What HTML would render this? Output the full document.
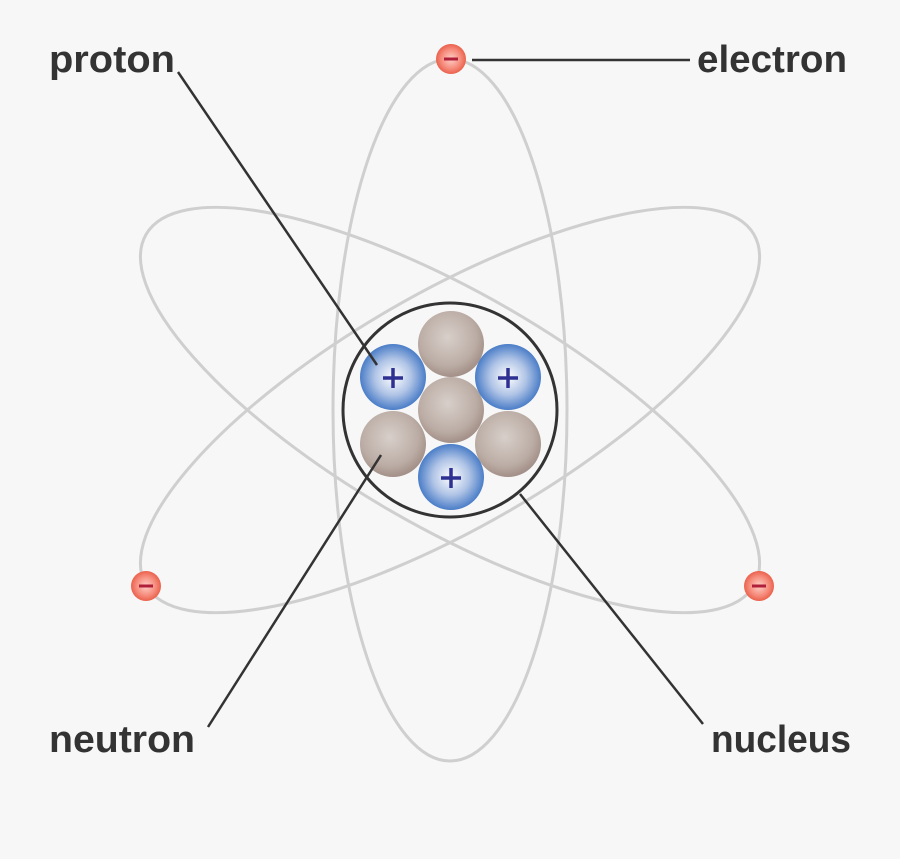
<!DOCTYPE html>
<html><head><style>html,body{margin:0;padding:0;background:#f7f7f7}</style></head><body>
<svg width="900" height="854" viewBox="0 0 900 854" xmlns="http://www.w3.org/2000/svg">
<defs>
<radialGradient id="n" cx="45%" cy="40%" r="60%"><stop offset="0" stop-color="#d8cfca"/><stop offset="0.7" stop-color="#bcaea6"/><stop offset="1" stop-color="#a39088"/></radialGradient>
<radialGradient id="p" cx="50%" cy="50%" r="55%"><stop offset="0" stop-color="#ffffff"/><stop offset="0.5" stop-color="#b0c4e6"/><stop offset="0.9" stop-color="#4d7fc8"/><stop offset="1" stop-color="#2f7ccc"/></radialGradient>
<radialGradient id="e" cx="50%" cy="50%" r="55%"><stop offset="0" stop-color="#ffd0c8"/><stop offset="0.6" stop-color="#f58a7a"/><stop offset="1" stop-color="#e8553f"/></radialGradient>
</defs>
<rect width="900" height="854" fill="#f7f7f7"/>
<g fill="none" stroke="#cfcfcf" stroke-width="3">
<ellipse cx="450" cy="410" rx="117" ry="351"/>
<ellipse cx="450" cy="410" rx="117" ry="351" transform="rotate(60 450 410)"/>
<ellipse cx="450" cy="410" rx="117" ry="351" transform="rotate(-60 450 410)"/>
</g>
<circle cx="450" cy="410" r="107" fill="#f7f7f7" stroke="#333" stroke-width="3"/>
<circle cx="451" cy="344" r="33" fill="url(#n)"/>
<circle cx="451" cy="410" r="33" fill="url(#n)"/>
<circle cx="393" cy="444" r="33" fill="url(#n)"/>
<circle cx="508" cy="444" r="33" fill="url(#n)"/>
<circle cx="393" cy="377" r="33" fill="url(#p)"/>
<circle cx="508" cy="377" r="33" fill="url(#p)"/>
<circle cx="451" cy="477" r="33" fill="url(#p)"/>
<g stroke="#2e3192" stroke-width="3.5">
<path d="M383 378h20M393 368v20M498 378h20M508 368v20M441 478h20M451 468v20"/>
</g>
<g stroke="#333" stroke-width="2.5" fill="none">
<path d="M178 72L377 365"/>
<path d="M472 60H690"/>
<path d="M208 727L381 455"/>
<path d="M520 494L703 724"/>
</g>
<circle cx="451" cy="59" r="15" fill="url(#e)"/>
<circle cx="146" cy="586" r="15" fill="url(#e)"/>
<circle cx="759" cy="586" r="15" fill="url(#e)"/>
<g stroke="#b0203a" stroke-width="3"><path d="M444 59h14M139 586h14M752 586h14"/></g>
<g font-family="Liberation Sans, sans-serif" font-weight="bold" font-size="38" fill="#333">
<text x="49" y="72" textLength="126" lengthAdjust="spacingAndGlyphs">proton</text>
<text x="697" y="72" textLength="150" lengthAdjust="spacingAndGlyphs">electron</text>
<text x="49" y="752" textLength="146" lengthAdjust="spacingAndGlyphs">neutron</text>
<text x="711" y="752" textLength="140" lengthAdjust="spacingAndGlyphs">nucleus</text>
</g>
</svg>
</body></html>
